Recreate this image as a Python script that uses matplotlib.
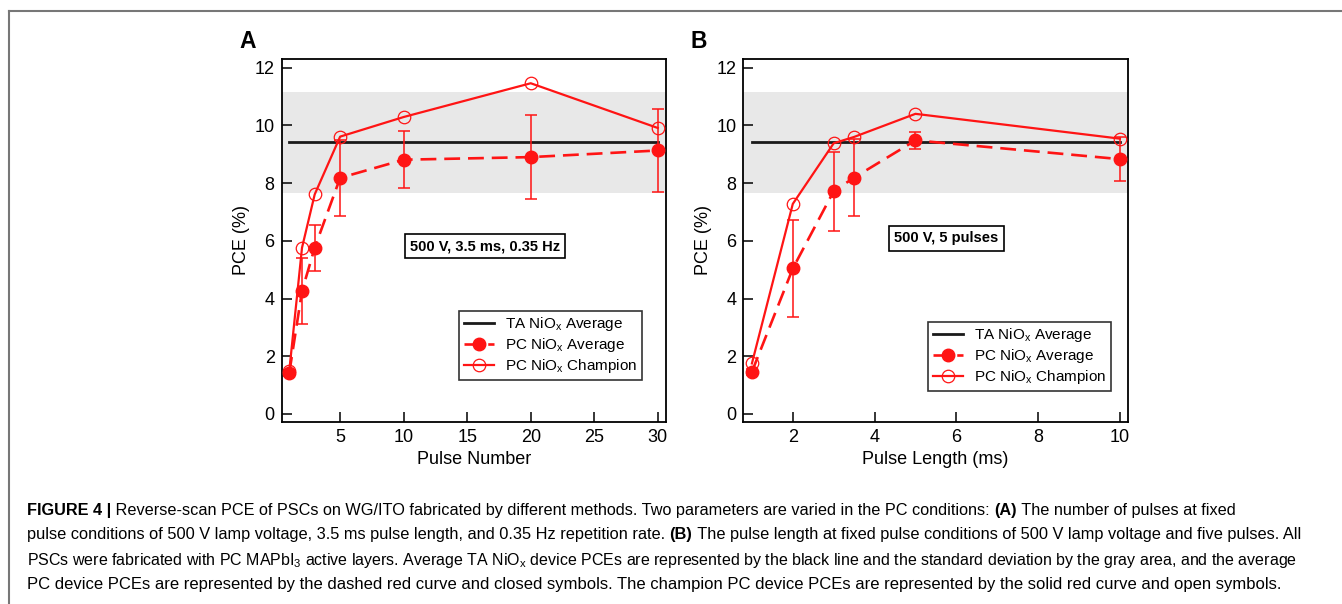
import numpy as np
import matplotlib.pyplot as plt
from matplotlib import font_manager

# ---- data ----
pulse_number = [1, 2, 3, 5, 10, 20, 30]
avg_a = [1.43, 4.26, 5.76, 8.18, 8.81, 8.90, 9.13]
err_a = [0.10, 1.15, 0.80, 1.33, 0.98, 1.45, 1.45]
champ_a = [1.50, 5.76, 7.61, 9.61, 10.29, 11.46, 9.91]

pulse_length = [1, 2, 3, 3.5, 5, 10]
avg_b = [1.46, 5.04, 7.72, 8.19, 9.48, 8.83]
err_b = [0.10, 1.69, 1.37, 1.34, 0.29, 0.76]
champ_b = [1.75, 7.28, 9.38, 9.60, 10.40, 9.54]

ta_mean = 9.44
ta_low, ta_high = 7.64, 11.15

names = [f.name for f in font_manager.fontManager.ttflist]
cap_font = 'Liberation Sans Narrow' if 'Liberation Sans Narrow' in names else 'Liberation Sans'

plt.rcParams['font.family'] = ['Liberation Sans', 'DejaVu Sans']
plt.rcParams['mathtext.fontset'] = 'custom'
plt.rcParams['mathtext.rm'] = 'Liberation Sans'
plt.rcParams['mathtext.it'] = 'Liberation Sans'

RED = '#ff1414'

fig = plt.figure(figsize=(13.42, 6.04), dpi=100)

# border lines of the figure page
fig.add_artist(plt.Line2D([9 / 1342, 1], [1 - 11 / 604, 1 - 11 / 604], color='#777777', lw=1.5))
fig.add_artist(plt.Line2D([9 / 1342, 9 / 1342], [0, 1 - 11 / 604], color='#777777', lw=1.5))


def panel(rect, x, avg, err, champ, xlim, xticks, xlabel, note, note_xy, leg_anchor, letter, letter_x):
    ax = fig.add_axes(rect)
    ax.axhspan(ta_low, ta_high, color='#e8e8e8', lw=0, zorder=0)
    ax.plot([x[0], x[-1]], [ta_mean, ta_mean], color='#1a1a1a', lw=2.0, zorder=2,
            label=r'TA NiO$_\mathregular{x}$ Average')
    ax.errorbar(x, avg, yerr=err, fmt='none', ecolor=RED, elinewidth=1.1, capsize=4,
                capthick=1.1, zorder=3)
    ax.plot(x, avg, color=RED, lw=1.9, dashes=(6, 3), marker='o', ms=9, zorder=4,
            label=r'PC NiO$_\mathregular{x}$ Average')
    ax.plot(x, champ, color=RED, lw=1.6, marker='o', ms=9, mfc='none', mew=0.9, zorder=5,
            label=r'PC NiO$_\mathregular{x}$ Champion')
    ax.set_xlim(*xlim)
    ax.set_ylim(-0.27, 12.3)
    ax.set_xticks(xticks)
    ax.set_yticks(range(0, 13, 2))
    ax.tick_params(direction='in', length=7, width=1.1, labelsize=13, pad=5,
                   top=False, right=False)
    for s in ax.spines.values():
        s.set_linewidth(1.3)
    ax.set_xlabel(xlabel, fontsize=13, labelpad=4)
    ax.set_ylabel('PCE (%)', fontsize=13, labelpad=3)
    ax.text(note_xy[0], note_xy[1], note, fontsize=10.5, fontweight='bold', ha='center',
            va='center', bbox=dict(boxstyle='square,pad=0.35', fc='white', ec='black', lw=1.2))
    leg = ax.legend(loc='lower right', bbox_to_anchor=leg_anchor, fontsize=11,
                    frameon=True, fancybox=False, handlelength=2.0, borderpad=0.3,
                    labelspacing=0.2, handletextpad=0.7, borderaxespad=0)
    leg.get_frame().set_edgecolor('black')
    leg.get_frame().set_linewidth(1.2)
    fig.text(letter_x / 1342, 1 - 42 / 604, letter, fontsize=16.5, fontweight='bold',
             ha='center', va='center')
    return ax


panel([0.2099, 0.3018, 0.2864, 0.6005], pulse_number, avg_a, err_a, champ_a,
      (0.4, 30.65), [5, 10, 15, 20, 25, 30], 'Pulse Number',
      '500 V, 3.5 ms, 0.35 Hz', (16.4, 5.81), (0.937, 0.115), 'A', 248)
panel([0.5539, 0.3018, 0.2864, 0.6005], pulse_length, avg_b, err_b, champ_b,
      (0.79, 10.19), [2, 4, 6, 8, 10], 'Pulse Length (ms)',
      '500 V, 5 pulses', (5.76, 6.08), (0.956, 0.085), 'B', 699)

# ---- caption ----
caption = [
    [('FIGURE 4 |', True),
     (' Reverse-scan PCE of PSCs on WG/ITO fabricated by different methods. Two parameters are varied in the PC conditions: ', False),
     ('(A)', True), (' The number of pulses at fixed', False)],
    [('pulse conditions of 500 V lamp voltage, 3.5 ms pulse length, and 0.35 Hz repetition rate. ', False),
     ('(B)', True),
     (' The pulse length at fixed pulse conditions of 500 V lamp voltage and five pulses. All', False)],
    [(r'PSCs were fabricated with PC MAPbI$_3$ active layers. Average TA NiO$_x$ device PCEs are represented by the black line and the standard deviation by the gray area, and the average', False)],
    [('PC device PCEs are represented by the dashed red curve and closed symbols. The champion PC device PCEs are represented by the solid red curve and open symbols.', False)],
]
line_y = [510, 535, 561, 585]
line_end = [1233, 1297, 1297, 1278]   # right end of each caption line (px)
renderer = fig.canvas.get_renderer()
plt.rcParams['mathtext.rm'] = cap_font
plt.rcParams['mathtext.it'] = cap_font


def draw_line(runs, yy, size):
    xpix, arts = 27, []
    for txt, bold in runs:
        t = fig.text(xpix / 1342, 1 - yy / 604, txt, fontsize=size, family=cap_font,
                     fontweight='bold' if bold else 'normal', va='center', ha='left')
        xpix += t.get_window_extent(renderer).width
        arts.append(t)
    return xpix, arts


for runs, yy, x_end in zip(caption, line_y, line_end):
    end, arts = draw_line(runs, yy, 11.8)
    for a in arts:
        a.remove()
    draw_line(runs, yy, 11.8 * (x_end - 27) / (end - 27))

fig.savefig('out.png', dpi=100)
